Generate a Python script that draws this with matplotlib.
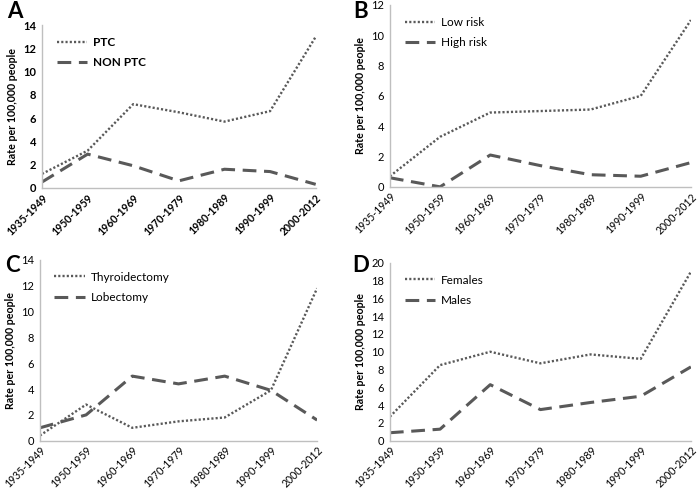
import matplotlib
matplotlib.use("Agg")
import matplotlib.pyplot as plt

categories = ["1935-1949", "1950-1959", "1960-1969", "1970-1979", "1980-1989", "1990-1999", "2000-2012"]

a_ptc = [1.2, 3.2, 7.2, 6.5, 5.7, 6.6, 13.0]
a_nonptc = [0.5, 2.9, 1.9, 0.6, 1.6, 1.4, 0.3]
b_low = [0.7, 3.3, 4.9, 5.0, 5.1, 6.0, 11.0]
b_high = [0.6, 0.0, 2.1, 1.4, 0.8, 0.7, 1.6]
c_thyr = [0.4, 2.8, 1.0, 1.5, 1.8, 3.9, 11.8]
c_lob = [1.0, 2.0, 5.0, 4.4, 5.0, 3.9, 1.6]
d_fem = [2.7, 8.5, 10.0, 8.7, 9.7, 9.2, 19.0]
d_male = [0.9, 1.3, 6.3, 3.5, 4.3, 5.0, 8.3]

plt.rcParams['font.family'] = ['Lato', 'DejaVu Sans']

fig = plt.figure(figsize=(7, 4.93), dpi=100)
col = '#595959'

panels = [
    ("A", [0.060, 0.619, 0.391, 0.330], a_ptc, a_nonptc, ("PTC", "NON PTC"), 14, 2, True),
    ("B", [0.557, 0.621, 0.430, 0.369], b_low, b_high, ("Low risk", "High risk"), 12, 2, False),
    ("C", [0.057, 0.106, 0.396, 0.367], c_thyr, c_lob, ("Thyroidectomy", "Lobectomy"), 14, 2, False),
    ("D", [0.557, 0.106, 0.430, 0.361], d_fem, d_male, ("Females", "Males"), 20, 2, False),
]

letter_pos = {"A": (0.010, 0.998), "B": (0.505, 0.998), "C": (0.008, 0.482), "D": (0.503, 0.482)}

for letter, rect, s1, s2, labels, ymax, step, boldticks in panels:
    ax = fig.add_axes(rect)
    x = list(range(len(categories)))
    ax.plot(x, s1, linestyle=(0, (0.9, 0.9)), color=col, lw=1.7, label=labels[0])
    ax.plot(x, s2, linestyle=(0, (4.5, 2.5)), color=col, lw=2.2, label=labels[1])
    ax.set_xlim(0, len(categories) - 1)
    ax.set_ylim(0, ymax)
    ax.set_yticks(range(0, ymax + 1, step))
    ax.set_xticks(x)
    fw = 'bold' if boldticks else 'normal'
    ax.set_xticklabels(categories, rotation=45, ha='right', rotation_mode='anchor',
                       fontsize=7.6, fontweight=fw)
    for t in ax.get_yticklabels():
        t.set_fontsize(8)
        t.set_fontweight(fw)
    ax.tick_params(axis='x', length=0, pad=3)
    ax.tick_params(axis='y', length=0, pad=4)
    ax.set_ylabel("Rate per 100,000 people", fontsize=7.7, fontweight='bold', labelpad=4)
    for s in ['top', 'right']:
        ax.spines[s].set_visible(False)
    for s in ['left', 'bottom']:
        ax.spines[s].set_color('#bfbfbf')
        ax.spines[s].set_linewidth(1.0)
    leg = ax.legend(loc='upper left', frameon=False, fontsize=8.5, handlelength=2.6,
                    handletextpad=0.5, labelspacing=0.8,
                    bbox_to_anchor=(0.01, 1.0), borderaxespad=0.6)
    for t in leg.get_texts():
        t.set_fontweight(fw)
    fig.text(letter_pos[letter][0], letter_pos[letter][1], letter, fontsize=16,
             fontweight='bold', va='top', ha='left')

fig.savefig("out.png", dpi=100)
